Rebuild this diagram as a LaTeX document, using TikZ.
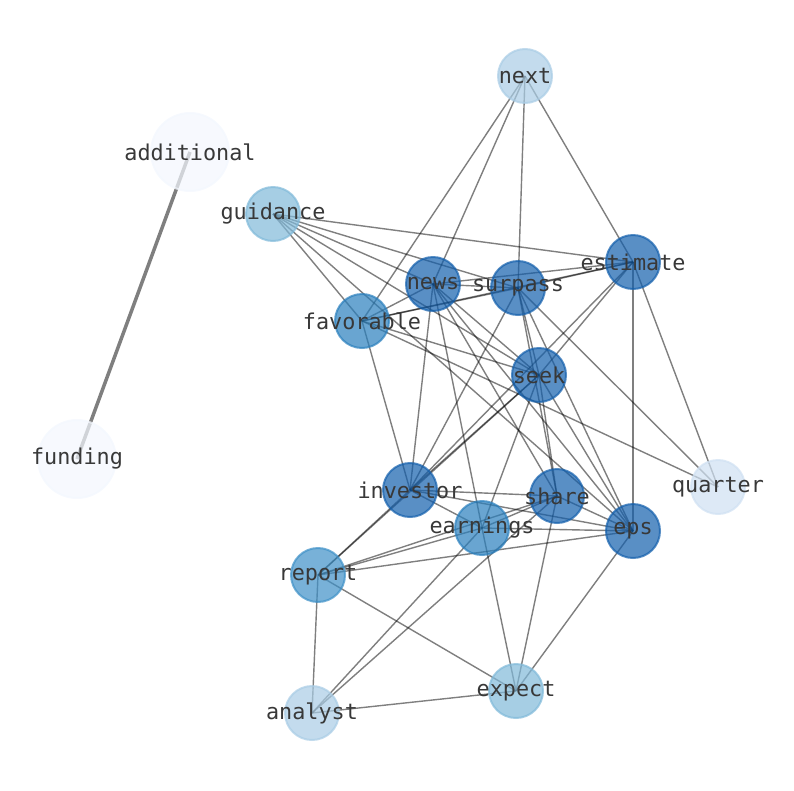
\documentclass[tikz,border=0pt]{standalone}
\usepackage{fontspec}
\setmonofont{DejaVu Sans Mono}
\usetikzlibrary{backgrounds}
\definecolor{dark}{HTML}{135FAC}
\definecolor{mid}{HTML}{2A7FBD}
\definecolor{midlight}{HTML}{3E90C7}
\definecolor{light}{HTML}{80B9D9}
\definecolor{pale}{HTML}{A9CCE5}
\definecolor{paler}{HTML}{CFE0F2}
\definecolor{faint}{HTML}{F3F7FE}
\begin{document}
\begin{tikzpicture}[x=1pt,y=-1pt,
  word/.style={circle,minimum size=54pt,inner sep=0pt,line width=2pt,
    fill=#1,draw=#1,fill opacity=.7,draw opacity=.7},
  big/.style={minimum size=78pt},
  every label/.style={opacity=1,text opacity=1,text=black!78,
    font=\ttfamily\fontsize{21.8}{24}\selectfont},
  link/.style={line width=1.4pt,draw=black,draw opacity=.5}
]
    \useasboundingbox (0,0) rectangle (794,790);
    \node[word=pale] (next) at (525,76) [label=center:next] {};
    \node[word=faint,big] (additional) at (190,152) [label=center:additional] {};
    \node[word=light] (guidance) at (273,214) [label=center:guidance] {};
    \node[word=dark] (estimate) at (633,262) [label=center:estimate] {};
    \node[word=dark] (news) at (433,284) [label=center:news] {};
    \node[word=dark] (surpass) at (518,288) [label=center:surpass] {};
    \node[word=mid] (favorable) at (362,321) [label=center:favorable] {};
    \node[word=dark] (seek) at (539,375) [label=center:seek] {};
    \node[word=faint,big] (funding) at (77,459) [label=center:funding] {};
    \node[word=dark] (investor) at (410,490) [label=center:investor] {};
    \node[word=paler] (quarter) at (718,487) [label=center:quarter] {};
    \node[word=dark] (share) at (557,496) [label=center:share] {};
    \node[word=mid] (earnings) at (482,528) [label=center:earnings] {};
    \node[word=dark] (eps) at (633,531) [label=center:eps] {};
    \node[word=midlight] (report) at (318,575) [label=center:report] {};
    \node[word=light] (expect) at (516,691) [label=center:expect] {};
    \node[word=pale] (analyst) at (312,713) [label=center:analyst] {};
    \begin{scope}[on background layer]
    \begin{scope}[link]
    \draw[line width=3.5pt] (additional.center) -- (funding.center);
    \draw (next.center) -- (favorable.center);
    \draw (next.center) -- (news.center);
    \draw (next.center) -- (surpass.center);
    \draw (next.center) -- (estimate.center);
    \draw (guidance.center) -- (estimate.center);
    \draw (guidance.center) -- (surpass.center);
    \draw (guidance.center) -- (news.center);
    \draw (guidance.center) -- (seek.center);
    \draw (guidance.center) -- (favorable.center);
    \draw (guidance.center) -- (eps.center);
    \draw (estimate.center) -- (news.center);
    \draw (estimate.center) -- (surpass.center);
    \draw (estimate.center) -- (favorable.center);
    \draw (estimate.center) -- (seek.center);
    \draw (estimate.center) -- (investor.center);
    \draw (estimate.center) -- (quarter.center);
    \draw (estimate.center) -- (eps.center);
    \draw (news.center) -- (favorable.center);
    \draw (news.center) -- (surpass.center);
    \draw (news.center) -- (seek.center);
    \draw (news.center) -- (share.center);
    \draw (news.center) -- (eps.center);
    \draw (news.center) -- (earnings.center);
    \draw (news.center) -- (investor.center);
    \draw (surpass.center) -- (favorable.center);
    \draw (surpass.center) -- (seek.center);
    \draw (surpass.center) -- (share.center);
    \draw (surpass.center) -- (eps.center);
    \draw (surpass.center) -- (investor.center);
    \draw (surpass.center) -- (quarter.center);
    \draw (favorable.center) -- (investor.center);
    \draw (favorable.center) -- (seek.center);
    \draw (favorable.center) -- (quarter.center);
    \draw (seek.center) -- (investor.center);
    \draw (seek.center) -- (report.center);
    \draw (seek.center) -- (share.center);
    \draw (seek.center) -- (eps.center);
    \draw (seek.center) -- (earnings.center);
    \draw (investor.center) -- (report.center);
    \draw (investor.center) -- (earnings.center);
    \draw (investor.center) -- (share.center);
    \draw (investor.center) -- (eps.center);
    \draw (share.center) -- (earnings.center);
    \draw (share.center) -- (report.center);
    \draw (share.center) -- (analyst.center);
    \draw (share.center) -- (expect.center);
    \draw (share.center) -- (eps.center);
    \draw (earnings.center) -- (report.center);
    \draw (earnings.center) -- (analyst.center);
    \draw (earnings.center) -- (expect.center);
    \draw (earnings.center) -- (eps.center);
    \draw (eps.center) -- (report.center);
    \draw (eps.center) -- (expect.center);
    \draw (report.center) -- (analyst.center);
    \draw (report.center) -- (expect.center);
    \draw (analyst.center) -- (expect.center);
    \end{scope}
    \end{scope}
\end{tikzpicture}
\end{document}
